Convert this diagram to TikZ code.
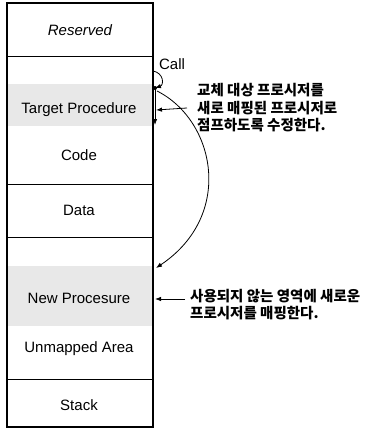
\documentclass[tikz,border=0pt]{standalone}
\usepackage{fontspec}
\setmainfont{Liberation Sans}
\newfontfamily\kofont{Noto Sans CJK KR}
\usetikzlibrary{arrows.meta}

\tikzset{
  lbl/.style={font=\fontsize{15}{18}\selectfont, inner sep=0pt},
  note/.style={font=\kofont\bfseries\fontsize{14.5}{17.5}\selectfont, align=left, anchor=west, inner sep=0pt},
  arr/.style={-{Latex[length=6pt,width=4.5pt]}, line width=0.8pt},
}

\begin{document}
\begin{tikzpicture}[x=1pt, y=-1pt]
   \useasboundingbox (0,0) rectangle (389,434);

   % shaded areas
   \fill[black!9] (8,84) rectangle (152,126);
   \fill[black!9] (8,266) rectangle (152,326);

   % memory map
   \draw[line width=1.1pt] (7,3) rectangle (153,427);
   \draw[line width=0.9pt] (7,56) -- (153,56);
   \draw[line width=0.9pt] (7,184) -- (153,184);
   \draw[line width=0.9pt] (7,237) -- (153,237);
   \draw[line width=0.9pt] (7,379) -- (153,379);

   \node[lbl] (reserved) at (80,30) {\itshape Reserved};
   \node[lbl] (target) at (79,110) {Target Procedure};
   \node[lbl] (code) at (79,155) {Code};
   \node[lbl] (data) at (79,210) {Data};
   \node[lbl] (newproc) at (79,298) {New Procesure};
   \node[lbl] (unmapped) at (79,349) {Unmapped Area};
   \node[lbl] (stack) at (79,405) {Stack};

   \node[lbl] (call) at (172,64) {Call};

   \node[note] (note1) at (197,108) {교체 대상 프로시저를\\새로 매핑된 프로시저로\\점프하도록 수정한다.};
   \node[note, anchor=north west] (note2) at (190,289) {사용되지 않는 영역에 새로운\\프로시저를 매핑한다.};

   \coordinate (callfrom) at (153,71);
   \coordinate (callto) at (155,88);
   \coordinate (jmpend) at (155,125);
   \coordinate (tgtpt) at (156,110);
   \coordinate (curvefrom) at (157,91);
   \coordinate (newtop) at (156,268);
   \coordinate (newpt) at (155,299);

   \draw[arr] (callfrom) .. controls (164,73) and (164,85) .. (callto);
   \fill (callto) circle (2pt);
   \draw[arr] (callto) -- (jmpend);
   \draw[arr] ([xshift=-10pt]note1.west) -- (tgtpt);
   \draw[arr] (curvefrom) .. controls (215,120) and (235,215) .. (newtop);
   \draw[arr] ([xshift=-5pt]note2.west |- newpt) -- (newpt);
\end{tikzpicture}
\end{document}
